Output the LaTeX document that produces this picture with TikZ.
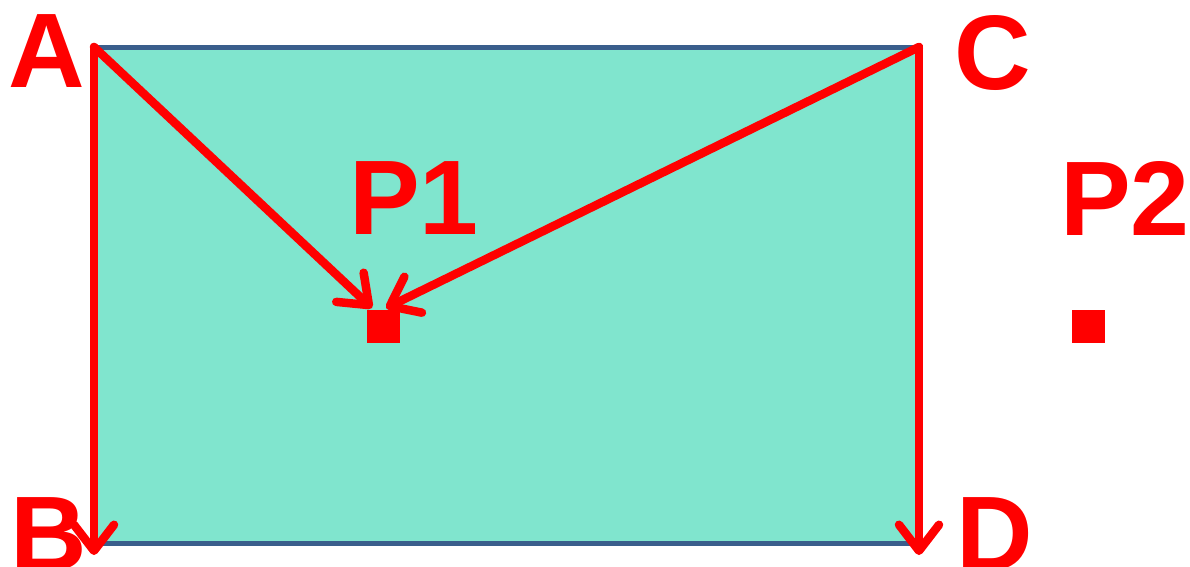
\documentclass[tikz,border=0pt]{standalone}
\usepackage{fontspec}
\setmainfont{Liberation Sans}
\usetikzlibrary{arrows.meta}
\definecolor{tealfill}{RGB}{128,229,206}
\definecolor{edgeblue}{RGB}{58,94,140}
\begin{document}
\begin{tikzpicture}[x=1pt,y=-1pt,
  lab/.style={text=red,font=\bfseries\fontsize{106}{106}\selectfont,inner sep=0pt,anchor=base},
  redarrow/.style={draw=red,line width=8.5pt,line cap=round,line join=round,-{Straight Barb[length=26pt,width=40pt,round]}},
  blueedge/.style={draw=edgeblue,line width=5pt},
  ptbox/.style={fill=red,minimum size=33pt,inner sep=0pt}]
\useasboundingbox (0,0) rectangle (1190,566);
% corners
\coordinate (A) at (94,47);
\coordinate (B) at (94,555);
\coordinate (C) at (919,47);
\coordinate (D) at (919,555);
\coordinate (Bc) at (94,543);
\coordinate (Dc) at (919,543);
\coordinate (p1a) at (372,308);
\coordinate (p1c) at (386,308);
% rectangle
\fill[tealfill] (A) rectangle (Dc);
\draw[blueedge] (A) -- (C);
\draw[blueedge] (Bc) -- (Dc);
% arrows
\draw[redarrow] (A) -- (B);
\draw[redarrow] (C) -- (D);
\draw[redarrow] (A) -- (p1a);
\draw[redarrow] (C) -- (p1c);
% points
\node[ptbox] (P1) at (383.5,326) {};
\node[ptbox] (P2) at (1088.5,326) {};
% labels
\node[lab] (lA) at (47,87) {A};
\node[lab] (lB) at (49,570) {B};
\node[lab] (lC) at (993,89) {C};
\node[lab] (lD) at (994.5,570) {D};
\node[lab] (lP1) at (414,234) {P1};
\node[lab] (lP2) at (1125,235) {P2};
\end{tikzpicture}
\end{document}
